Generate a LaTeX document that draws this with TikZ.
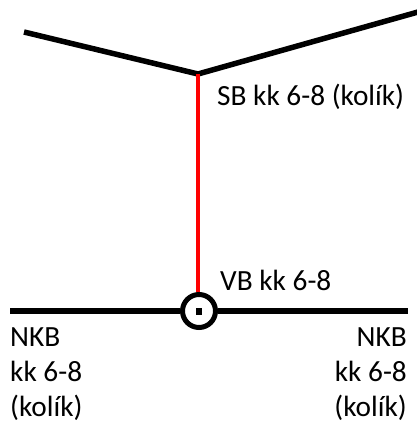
\documentclass[tikz,border=0pt]{standalone}
\usepackage{fontspec}
\setmainfont{Carlito}
\begin{document}
\begin{tikzpicture}[x=1pt,y=-1pt,
  wire/.style={line width=5.5pt,black},
  pole/.style={line width=4.5pt,red},
  lbl/.style={inner sep=0pt,font=\fontsize{29.3}{35}\selectfont}]
\useasboundingbox (0,0) rectangle (417,423);
\coordinate (tl) at (24,32);
\coordinate (v) at (198,74);
\coordinate (tr) at (418,12);
\coordinate (bl) at (10,311);
\coordinate (br) at (408,311);
\node[circle,draw,line width=5pt,minimum size=33pt,inner sep=0pt] (c) at (199,311) {};
\node[fill=black,minimum width=6pt,minimum height=7pt,inner sep=0pt] (sq) at (199,311) {};
\draw[wire,line join=miter] (tl) -- (v) -- (tr);
\draw[pole] (v) -- (v |- c.north);
\draw[wire] (bl) -- (c.west);
\draw[wire] (c.east) -- (br);
\node[lbl,anchor=base west] (sb) at (217,105) {SB kk 6-8 (kolík)};
\node[lbl,anchor=base west] (vb) at (220,290) {VB kk 6-8};
\node[lbl,anchor=base west,align=left] (nl) at (10,416) {NKB\\kk 6-8\\(kolík)};
\node[lbl,anchor=base east,align=right] (nr) at (407,416) {NKB\\kk 6-8\\(kolík)};
\end{tikzpicture}
\end{document}
